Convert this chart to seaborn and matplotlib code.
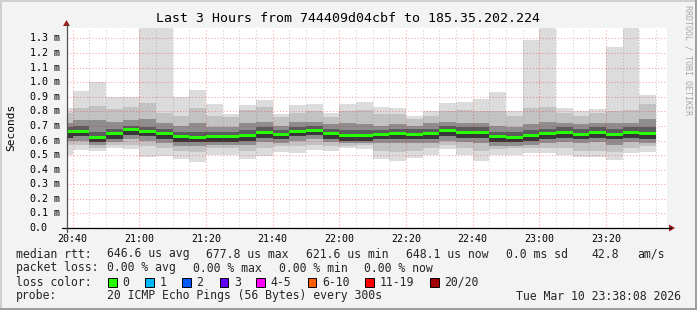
import numpy as np
import pandas as pd
import matplotlib
matplotlib.use("Agg")
import matplotlib.pyplot as plt
import seaborn as sns
from matplotlib.patches import Rectangle, Polygon
from matplotlib.lines import Line2D

# ---------------- data (values in ms) ----------------
bar_start = ["20:35", "20:40", "20:45", "20:50", "20:55", "21:00", "21:05", "21:10", "21:15",
             "21:20", "21:25", "21:30", "21:35", "21:40", "21:45", "21:50", "21:55", "22:00",
             "22:05", "22:10", "22:15", "22:20", "22:25", "22:30", "22:35", "22:40", "22:45",
             "22:50", "22:55", "23:00", "23:05", "23:10", "23:15", "23:20", "23:25", "23:30"]
rtt_min = [0.500, 0.535, 0.528, 0.547, 0.540, 0.489, 0.494, 0.473, 0.455, 0.498, 0.503, 0.473,
           0.494, 0.523, 0.517, 0.535, 0.528, 0.547, 0.540, 0.471, 0.462, 0.482, 0.498, 0.540,
           0.503, 0.462, 0.498, 0.503, 0.512, 0.517, 0.498, 0.489, 0.485, 0.466, 0.512, 0.521]
rtt_d2 = [0.57, 0.57, 0.55, 0.57, 0.57, 0.56, 0.55, 0.53, 0.52, 0.55, 0.55, 0.53,
          0.55, 0.56, 0.56, 0.57, 0.56, 0.56, 0.57, 0.53, 0.52, 0.53, 0.55, 0.57,
          0.55, 0.53, 0.54, 0.55, 0.55, 0.55, 0.55, 0.53, 0.53, 0.52, 0.55, 0.56]
rtt_d1 = [0.60, 0.60, 0.57, 0.59, 0.61, 0.60, 0.58, 0.56, 0.56, 0.57, 0.57, 0.57,
          0.59, 0.58, 0.60, 0.61, 0.59, 0.58, 0.58, 0.58, 0.58, 0.58, 0.58, 0.60,
          0.59, 0.58, 0.56, 0.56, 0.57, 0.58, 0.59, 0.58, 0.59, 0.57, 0.59, 0.58]
rtt_d0 = [0.62, 0.63, 0.59, 0.61, 0.64, 0.63, 0.61, 0.59, 0.59, 0.59, 0.59, 0.60,
          0.62, 0.61, 0.63, 0.64, 0.61, 0.60, 0.60, 0.61, 0.61, 0.61, 0.61, 0.63,
          0.62, 0.62, 0.59, 0.59, 0.60, 0.61, 0.62, 0.61, 0.62, 0.61, 0.62, 0.61]
rtt_median = [0.661, 0.665, 0.624, 0.645, 0.678, 0.665, 0.645, 0.629, 0.622, 0.629, 0.626, 0.631,
              0.658, 0.640, 0.661, 0.670, 0.647, 0.636, 0.636, 0.640, 0.645, 0.643, 0.645, 0.668,
              0.658, 0.654, 0.626, 0.622, 0.631, 0.645, 0.658, 0.640, 0.654, 0.640, 0.658, 0.645]
rtt_u0 = [0.69, 0.70, 0.66, 0.68, 0.70, 0.69, 0.68, 0.66, 0.66, 0.66, 0.66, 0.67,
          0.69, 0.67, 0.69, 0.70, 0.68, 0.67, 0.67, 0.67, 0.68, 0.68, 0.68, 0.70,
          0.69, 0.69, 0.66, 0.66, 0.67, 0.68, 0.69, 0.68, 0.69, 0.68, 0.69, 0.69]
rtt_u1 = [0.72, 0.74, 0.74, 0.73, 0.74, 0.75, 0.72, 0.70, 0.72, 0.69, 0.69, 0.72,
          0.73, 0.70, 0.73, 0.73, 0.71, 0.72, 0.71, 0.70, 0.71, 0.70, 0.72, 0.73,
          0.72, 0.72, 0.70, 0.69, 0.71, 0.73, 0.72, 0.71, 0.72, 0.72, 0.72, 0.75]
rtt_u2 = [0.79, 0.82, 0.84, 0.815, 0.83, 0.86, 0.79, 0.77, 0.82, 0.77, 0.76, 0.81,
          0.83, 0.76, 0.79, 0.80, 0.76, 0.80, 0.81, 0.78, 0.78, 0.75, 0.77, 0.80,
          0.81, 0.80, 0.80, 0.77, 0.82, 0.83, 0.79, 0.77, 0.79, 0.80, 0.81, 0.85]
rtt_max = [0.825, 0.940, 1.003, 0.896, 0.900, 1.400, 1.400, 0.896, 0.946, 0.850, 0.780, 0.844,
           0.878, 0.780, 0.844, 0.853, 0.790, 0.850, 0.864, 0.830, 0.823, 0.768, 0.800, 0.857,
           0.864, 0.887, 0.935, 0.800, 1.290, 1.400, 0.820, 0.800, 0.816, 1.243, 1.400, 0.912]

x_tick_labels = ["20:40", "21:00", "21:20", "21:40", "22:00", "22:20", "22:40", "23:00", "23:20"]
y_tick_values = [0.0, 0.1, 0.2, 0.3, 0.4, 0.5, 0.6, 0.7, 0.8, 0.9, 1.0, 1.1, 1.2, 1.3]

title = "Last 3 Hours from 744409d04cbf to 185.35.202.224"
rtt_stats = ["646.6 us avg", "677.8 us max", "621.6 us min", "648.1 us now", "0.0 ms sd", "42.8", "am/s"]
loss_stats = ["0.00 % avg", "0.00 % max", "0.00 % min", "0.00 % now"]
loss_labels = ["0", "1", "2", "3", "4-5", "6-10", "11-19", "20/20"]
loss_colors = ["#26ff00", "#00b8ff", "#0059ff", "#5e00ff", "#ff00ff", "#ff5e00", "#ff0000", "#a10000"]
probe_text = "20 ICMP Echo Pings (56 Bytes) every 300s"
date_text = "Tue Mar 10 23:38:08 2026"


def to_min(s):
    h, m = s.split(":")
    return (int(h) - 20) * 60 + int(m)


df = pd.DataFrame({"t": [to_min(s) for s in bar_start], "lo": rtt_min, "d2": rtt_d2, "d1": rtt_d1,
                   "d0": rtt_d0, "med": rtt_median, "u0": rtt_u0, "u1": rtt_u1, "u2": rtt_u2,
                   "hi": rtt_max})

# ---------------- figure ----------------
sns.set_theme(style="white")
plt.rcParams["font.family"] = ["DejaVu Sans Mono", "DejaVu Sans"]

W, H = 697, 310
fig = plt.figure(figsize=(W / 100, H / 100), dpi=100, facecolor="#f3f3f3")


def fx(x):
    return x / W


def fy(y):
    return 1 - y / H


# frame shading
fig.patches.append(Rectangle((0, fy(2)), 1, 2 / H, transform=fig.transFigure, color="#cfcfcf", lw=0))
fig.patches.append(Rectangle((0, 0), 2 / W, 1, transform=fig.transFigure, color="#cfcfcf", lw=0))
fig.patches.append(Rectangle((0, 0), 1, 2 / H, transform=fig.transFigure, color="#9e9e9e", lw=0))
fig.patches.append(Rectangle((fx(W - 2), 0), 2 / W, 1, transform=fig.transFigure, color="#9e9e9e", lw=0))

X0, X1, Y0, Y1 = 66.5, 666.5, 228.0, 27.5
ax = fig.add_axes([fx(X0), fy(Y0), (X1 - X0) / W, (Y0 - Y1) / H])
ax.set_facecolor("white")
t_start = 38 + 8 / 60
ax.set_xlim(t_start, t_start + 180)
ax.set_ylim(0, 1.375)
for s in ax.spines.values():
    s.set_visible(False)
ax.set_xticks([])
ax.set_yticks([])

bands = [("lo", "d2", "#dcdcdc"), ("d2", "d1", "#c2c2c2"), ("d1", "d0", "#8e8e8e"),
         ("d0", "med", "#383838"), ("med", "u0", "#5c5c5c"), ("u0", "u1", "#8e8e8e"),
         ("u1", "u2", "#c2c2c2"), ("u2", "hi", "#dcdcdc")]
for lo, hi, c in bands:
    ax.bar(df["t"], df[hi] - df[lo], bottom=df[lo], width=5, align="edge", color=c,
           linewidth=0, antialiased=False, zorder=1)

mh = 3 / 145.8
ax.bar(df["t"], mh, bottom=df["med"] - mh / 2, width=5, align="edge", color=loss_colors[0],
       linewidth=0, antialiased=False, zorder=2)

# grid
red = (1, 0, 0, 0.38)
gray = (0.45, 0.45, 0.45, 0.35)
for m in range(40, 216, 5):
    ax.axvline(m, color=red if m % 20 == 0 else gray, lw=0.75, ls=(0, (1, 2)), zorder=3)
for v in y_tick_values[1:]:
    ax.axhline(v, color=red, lw=0.75, ls=(0, (1, 2)), zorder=3)

# axes lines and arrows
fig.lines.append(Line2D([fx(62), fx(671)], [fy(Y0), fy(Y0)], transform=fig.transFigure, color="black", lw=0.9))
fig.lines.append(Line2D([fx(X0), fx(X0)], [fy(232), fy(24)], transform=fig.transFigure, color="#505050", lw=0.9))
fig.patches.append(Polygon([[fx(669), fy(224.5)], [fx(675), fy(Y0)], [fx(669), fy(231.5)]],
                           closed=True, transform=fig.transFigure, color="#9b1c1c", lw=0))
fig.patches.append(Polygon([[fx(63), fy(26)], [fx(X0), fy(20)], [fx(70), fy(26)]],
                           closed=True, transform=fig.transFigure, color="#9b1c1c", lw=0))

# tick labels
for v in y_tick_values:
    lab = "0.0" if v == 0 else f"{v:.1f} m"
    fig.text(fx(29.5), fy(Y0 - v * 145.8), lab, ha="left", va="center", fontsize=7.2, color="black")
for i, lab in enumerate(x_tick_labels):
    m = 40 + 20 * i
    xp = X0 + (m - t_start) * (X1 - X0) / 180
    fig.text(fx(xp), fy(238.5), lab, ha="center", va="center", fontsize=7.2, color="black")

# title, axis label, watermark
fig.text(fx(348), fy(18), title, ha="center", va="center", fontsize=9.5, color="black")
fig.text(fx(11), fy(127), "Seconds", ha="center", va="center", rotation=90, fontsize=8, color="black")
fig.text(fx(688), fy(60), "RRDTOOL / TOBI OETIKER", ha="center", va="center", rotation=270,
         fontsize=6, color="#a8a8a8")

# legend
LF = 8.3
rows = [254, 268, 282, 296]
fig.text(fx(15.5), fy(rows[0]), "median rtt:", ha="left", va="center", fontsize=LF)
for x, s in zip([106.8, 206.2, 306, 406.2, 505.9, 591, 637], rtt_stats):
    fig.text(fx(x), fy(rows[0]), s, ha="left", va="center", fontsize=LF)
fig.text(fx(15.5), fy(rows[1]), "packet loss:", ha="left", va="center", fontsize=LF)
for x, s in zip([106.8, 193, 279.2, 364.5], loss_stats):
    fig.text(fx(x), fy(rows[1]), s, ha="left", va="center", fontsize=LF)
fig.text(fx(15.5), fy(rows[2]), "loss color:", ha="left", va="center", fontsize=LF)
for x, s, c in zip([108, 145, 182, 219.5, 256.3, 307.5, 365.2, 430], loss_labels, loss_colors):
    fig.patches.append(Rectangle((fx(x), fy(rows[2] + 4.5)), 8.5 / W, 9 / H, transform=fig.transFigure,
                                 facecolor=c, edgecolor="black", lw=0.7))
    fig.text(fx(x + 14.5), fy(rows[2]), s, ha="left", va="center", fontsize=LF)
fig.text(fx(15.5), fy(rows[3]), "probe:", ha="left", va="center", fontsize=LF)
fig.text(fx(106.8), fy(rows[3]), probe_text, ha="left", va="center", fontsize=LF)
fig.text(fx(681), fy(rows[3]), date_text, ha="right", va="center", fontsize=LF)

fig.savefig("out.png", dpi=100, facecolor=fig.get_facecolor())
